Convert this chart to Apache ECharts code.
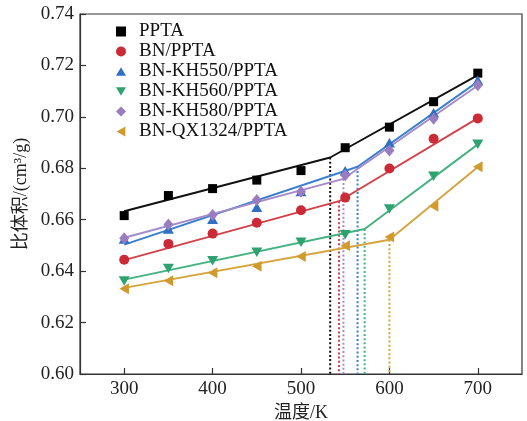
<!DOCTYPE html>
<html>
<head>
<meta charset="utf-8">
<script src="https://cdn.jsdelivr.net/npm/echarts@6/dist/echarts.min.js"></script>
<style>html,body{margin:0;padding:0;background:#fff;}#c{width:527px;height:421px;}</style>
</head>
<body>
<div id="c"></div>
<script>
// Data
const temps = [300, 350, 400, 450, 500, 550, 600, 650, 700];
const names = ['PPTA', 'BN/PPTA', 'BN-KH550/PPTA', 'BN-KH560/PPTA', 'BN-KH580/PPTA', 'BN-QX1324/PPTA'];
const valsPPTA   = [0.6616, 0.6694, 0.6721, 0.6754, 0.6791, 0.6880, 0.6960, 0.7059, 0.7170];
const valsBN     = [0.6444, 0.6506, 0.6546, 0.6588, 0.6637, 0.6686, 0.6799, 0.6915, 0.6994];
const valsKH550  = [0.6525, 0.6564, 0.6602, 0.6648, 0.6710, 0.6790, 0.6899, 0.7016, 0.7142];
const valsKH560  = [0.6362, 0.6410, 0.6440, 0.6473, 0.6512, 0.6542, 0.6642, 0.6769, 0.6893];
const valsKH580  = [0.6528, 0.6581, 0.6618, 0.6677, 0.6709, 0.6773, 0.6869, 0.6993, 0.7123];
const valsQX     = [0.6332, 0.6363, 0.6394, 0.6419, 0.6457, 0.6499, 0.6533, 0.6652, 0.6806];
// fitted two-segment lines: [start, break, end]
const fitPPTA  = [[300, 0.6633], [533, 0.6842], [700, 0.7162]];
const fitBN    = [[300, 0.6443], [543, 0.6672], [700, 0.6995]];
const fitKH550 = [[300, 0.6503], [564, 0.6806], [700, 0.7137]];
const fitKH560 = [[300, 0.6367], [572, 0.6564], [700, 0.6893]];
const fitKH580 = [[300, 0.6530], [548, 0.6759], [700, 0.7122]];
const fitQX    = [[300, 0.6335], [600, 0.6522], [700, 0.6805]];
const xTicks = [300, 400, 500, 600, 700];

const allVals = [valsPPTA, valsBN, valsKH550, valsKH560, valsKH580, valsQX];
const allFits = [fitPPTA, fitBN, fitKH550, fitKH560, fitKH580, fitQX];
const markerColors = ['#000000', '#cc2a36', '#2f6fc4', '#2ea36f', '#9a7cc1', '#d09a2c'];
const lineColors   = ['#111111', '#d3414a', '#3a7fcf', '#46b282', '#a58bc9', '#d4a43e'];
const symbols = ['rect', 'circle', 'path://M5,0L10,8.66L0,8.66Z', 'path://M0,0L10,0L5,8.66Z', 'diamond', 'path://M0,5L8.66,0L8.66,10Z'];
const sizes = [[9, 9], 10, [11, 9.5], [11, 9.5], [10, 12], [9.5, 11]];

const FONT = '"Liberation Serif", "Times New Roman", "Noto Sans CJK SC", serif';
const series = [];
// dotted vertical break lines
allFits.forEach((f, i) => {
  series.push({
    type: 'line', name: 'break' + i, silent: true, symbol: 'none', z: 1,
    data: [[f[1][0], f[1][1]], [f[1][0], 0.60]],
    lineStyle: { color: lineColors[i], width: 2, type: [2, 2.2] }
  });
});
// fitted lines
allFits.forEach((f, i) => {
  series.push({
    type: 'line', name: 'fit' + i, silent: true, symbol: 'none', z: 2,
    data: f,
    lineStyle: { color: lineColors[i], width: 1.9 }
  });
});
// markers
allVals.forEach((v, i) => {
  series.push({
    type: 'scatter', name: names[i], z: 3,
    data: temps.map((t, k) => [t, v[k]]),
    symbol: symbols[i], symbolSize: sizes[i],
    itemStyle: { color: markerColors[i], opacity: 1 }
  });
});

const chart = echarts.init(document.getElementById('c'), null, { renderer: 'canvas' });
chart.setOption({
  animation: false,
  backgroundColor: '#fff',
  grid: { left: 80, right: 5, top: 14, bottom: 47, containLabel: false, outerBoundsMode: 'none', show: true, borderColor: '#333', borderWidth: 1.2, backgroundColor: 'transparent' },
  legend: {
    data: names, orient: 'vertical', left: 111, top: 17,
    itemWidth: 10, itemHeight: 10, itemGap: 1,
    textStyle: { fontFamily: FONT, fontSize: 19, color: '#111', padding: [0, 0, 0, 8] }
  },
  xAxis: {
    type: 'value', min: 250, max: 750,
    name: '温度/K', nameLocation: 'middle', nameGap: 26,
    nameTextStyle: { fontFamily: FONT, fontSize: 18, color: '#222' },
    axisLine: { lineStyle: { color: '#333', width: 1.2 } },
    axisTick: { inside: true, length: 6, customValues: xTicks, lineStyle: { color: '#333', width: 1.2 } },
    axisLabel: { customValues: xTicks, margin: 6, fontFamily: FONT, fontSize: 19, color: '#222' },
    splitLine: { show: false }
  },
  yAxis: {
    type: 'value', min: 0.60, max: 0.74, interval: 0.02,
    name: '比体积/(cm³/g)', nameLocation: 'middle', nameGap: 50,
    nameTextStyle: { fontFamily: FONT, fontSize: 18, color: '#222' },
    axisLine: { lineStyle: { color: '#333', width: 1.2 } },
    axisTick: { inside: true, length: 6, lineStyle: { color: '#333', width: 1.2 } },
    axisLabel: { margin: 6, fontFamily: FONT, fontSize: 19, color: '#222', formatter: v => v.toFixed(2) },
    splitLine: { show: false }
  },
  series: series
});
</script>
</body>
</html>
